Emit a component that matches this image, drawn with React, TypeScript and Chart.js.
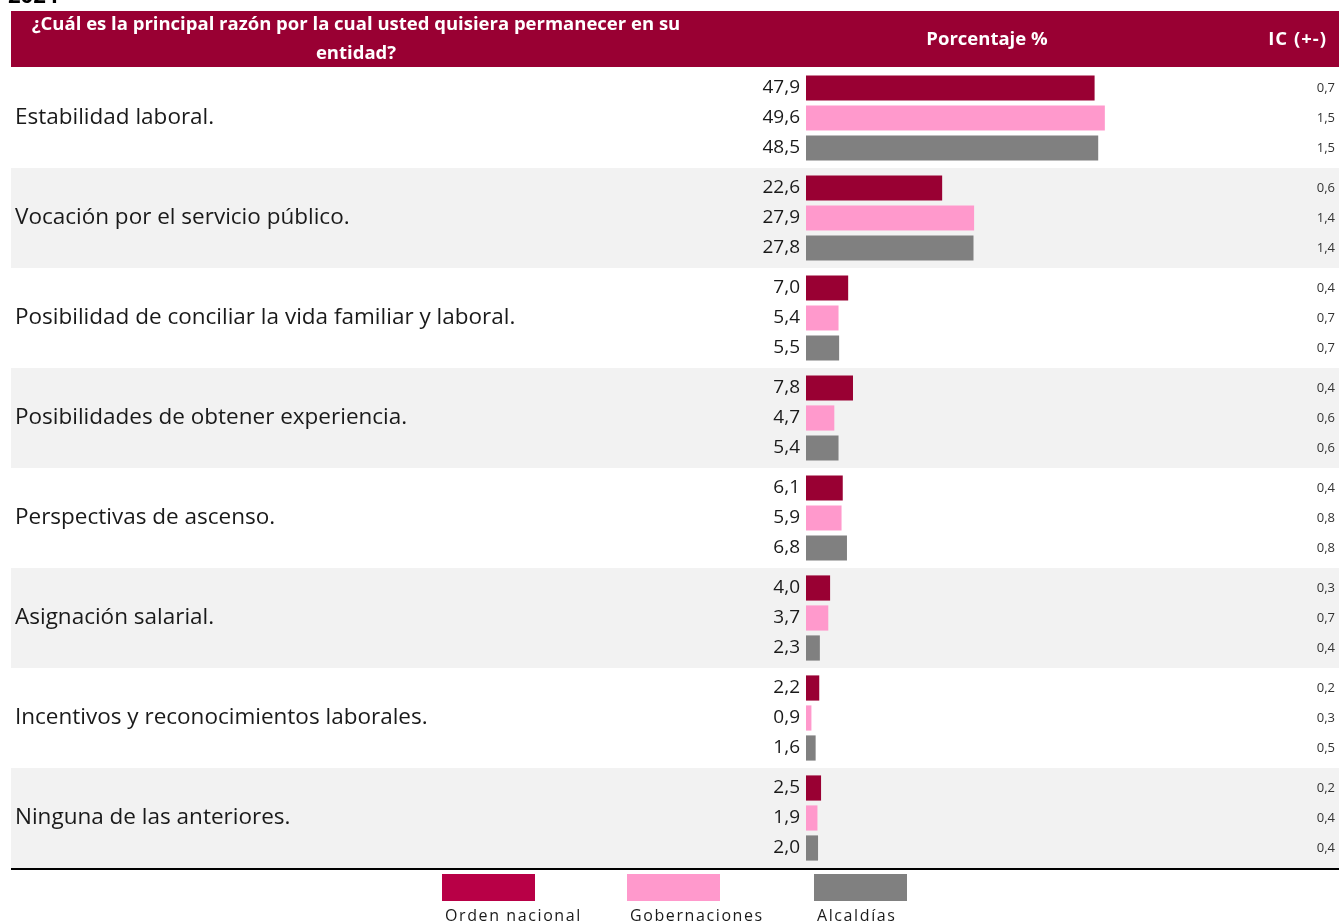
import React, { useEffect, useRef } from "react";
import { Chart, registerables } from "chart.js";

Chart.register(...registerables);

const categories = [
  "Estabilidad laboral.",
  "Vocación por el servicio público.",
  "Posibilidad de conciliar la vida familiar y laboral.",
  "Posibilidades de obtener experiencia.",
  "Perspectivas de ascenso.",
  "Asignación salarial.",
  "Incentivos y reconocimientos laborales.",
  "Ninguna de las anteriores.",
];
const seriesNames = ["Orden nacional", "Gobernaciones", "Alcaldías"];
const ordenNacional = [47.9, 22.6, 7.0, 7.8, 6.1, 4.0, 2.2, 2.5];
const gobernaciones = [49.6, 27.9, 5.4, 4.7, 5.9, 3.7, 0.9, 1.9];
const alcaldias = [48.5, 27.8, 5.5, 5.4, 6.8, 2.3, 1.6, 2.0];
const icOrden = [0.7, 0.6, 0.4, 0.4, 0.4, 0.3, 0.2, 0.2];
const icGob = [1.5, 1.4, 0.7, 0.6, 0.8, 0.7, 0.3, 0.4];
const icAlc = [1.5, 1.4, 0.7, 0.6, 0.8, 0.4, 0.5, 0.4];
const headerLine1 = "¿Cuál es la principal razón por la cual usted quisiera permanecer en su";
const headerLine2 = "entidad?";
const headerPct = "Porcentaje %";
const headerIC = "IC (+-)";
const yearLabel = "2024";

const barColors = ["#990033", "#ff99cc", "#808080"];
const legendColors = ["#b80046", "#ff99cc", "#808080"];
const FONT = "'Open Sans', 'Noto Sans', sans-serif";

const fmt = (v: number) => v.toFixed(1).replace(".", ",");

const tablePlugin = {
  id: "tablePlugin",
  beforeDraw(chart: any) {
    const { ctx, chartArea, scales } = chart;
    const y = scales.y;
    const W = chart.width;
    ctx.save();
    ctx.fillStyle = "#ffffff";
    ctx.fillRect(0, 0, W, chart.height);
    const step = y.getPixelForValue(1) - y.getPixelForValue(0);
    categories.forEach((_, i) => {
      if (i % 2 === 1) {
        const c = y.getPixelForValue(i);
        ctx.fillStyle = "#f2f2f2";
        ctx.fillRect(11, c - step / 2, W - 11, step);
      }
    });
    // header band
    ctx.fillStyle = "#990033";
    ctx.fillRect(11, 11, W - 11, chartArea.top - 12);
    ctx.fillStyle = "#ffffff";
    ctx.font = `bold 18.5px ${FONT}`;
    ctx.textAlign = "center";
    ctx.textBaseline = "middle";
    ctx.fillText(headerLine1, 356, 25);
    ctx.fillText(headerLine2, 356, 54);
    ctx.fillText(headerPct, 987, 40);
    ctx.textAlign = "right";
    (ctx as any).letterSpacing = "1px";
    ctx.fillText(headerIC, 1327, 40);
    (ctx as any).letterSpacing = "0px";
    // year (cut off at top)
    ctx.fillStyle = "#000000";
    ctx.font = `bold 22px ${FONT}`;
    ctx.textAlign = "left";
    ctx.textBaseline = "alphabetic";
    ctx.fillText(yearLabel, 8, 3);
    ctx.restore();
  },
  afterDatasetsDraw(chart: any) {
    const { ctx, chartArea, scales } = chart;
    const y = scales.y;
    const W = chart.width;
    ctx.save();
    ctx.fillStyle = "#1a1a1a";
    ctx.font = `22.5px ${FONT}`;
    ctx.textAlign = "left";
    ctx.textBaseline = "middle";
    categories.forEach((c, i) => {
      ctx.fillText(c, 15, y.getPixelForValue(i));
    });
    const ics = [icOrden, icGob, icAlc];
    chart.data.datasets.forEach((ds: any, di: number) => {
      const meta = chart.getDatasetMeta(di);
      meta.data.forEach((bar: any, i: number) => {
        ctx.fillStyle = "#1a1a1a";
        ctx.font = `19px ${FONT}`;
        ctx.textAlign = "right";
        ctx.fillText(fmt(ds.data[i]), chartArea.left - 6, bar.y);
        ctx.fillStyle = "#333333";
        ctx.font = `13px ${FONT}`;
        ctx.fillText(fmt(ics[di][i]), 1335, bar.y);
      });
    });
    // bottom line
    ctx.strokeStyle = "#000000";
    ctx.lineWidth = 2;
    ctx.beginPath();
    ctx.moveTo(11, chartArea.bottom + 1);
    ctx.lineTo(W, chartArea.bottom + 1);
    ctx.stroke();
    // legend
    const lefts = [442, 627, 814];
    ctx.font = `16px ${FONT}`;
    ctx.textAlign = "left";
    ctx.textBaseline = "middle";
    seriesNames.forEach((n, i) => {
      ctx.fillStyle = legendColors[i];
      ctx.fillRect(lefts[i], 874, 93, 27);
      ctx.fillStyle = "#1a1a1a";
      (ctx as any).letterSpacing = "1.6px";
      ctx.fillText(n, lefts[i] + 3, 916);
    });
    ctx.restore();
  },
};

export default function App() {
  const ref = useRef<HTMLCanvasElement>(null);
  useEffect(() => {
    if (!ref.current) return;
    const chart = new Chart(ref.current, {
      type: "bar",
      data: {
        labels: categories,
        datasets: [
          { label: seriesNames[0], data: ordenNacional, backgroundColor: barColors[0] },
          { label: seriesNames[1], data: gobernaciones, backgroundColor: barColors[1] },
          { label: seriesNames[2], data: alcaldias, backgroundColor: barColors[2] },
        ],
      },
      options: {
        indexAxis: "y",
        responsive: false,
        animation: false,
        layout: { padding: { left: 806, right: 51, top: 68, bottom: 56 } },
        datasets: { bar: { categoryPercentage: 0.9, barPercentage: 0.84 } },
        scales: {
          x: { display: false, min: 0, max: 80, grid: { display: false } },
          y: { display: false, grid: { display: false } },
        },
        plugins: { legend: { display: false }, tooltip: { enabled: false } },
      },
      plugins: [tablePlugin],
    });
    return () => chart.destroy();
  }, []);
  return (
    <div style={{ position: "absolute", left: 0, top: 0, width: 1339, height: 924 }}>
      <canvas ref={ref} width={1339} height={924} style={{ display: "block" }} />
    </div>
  );
}
